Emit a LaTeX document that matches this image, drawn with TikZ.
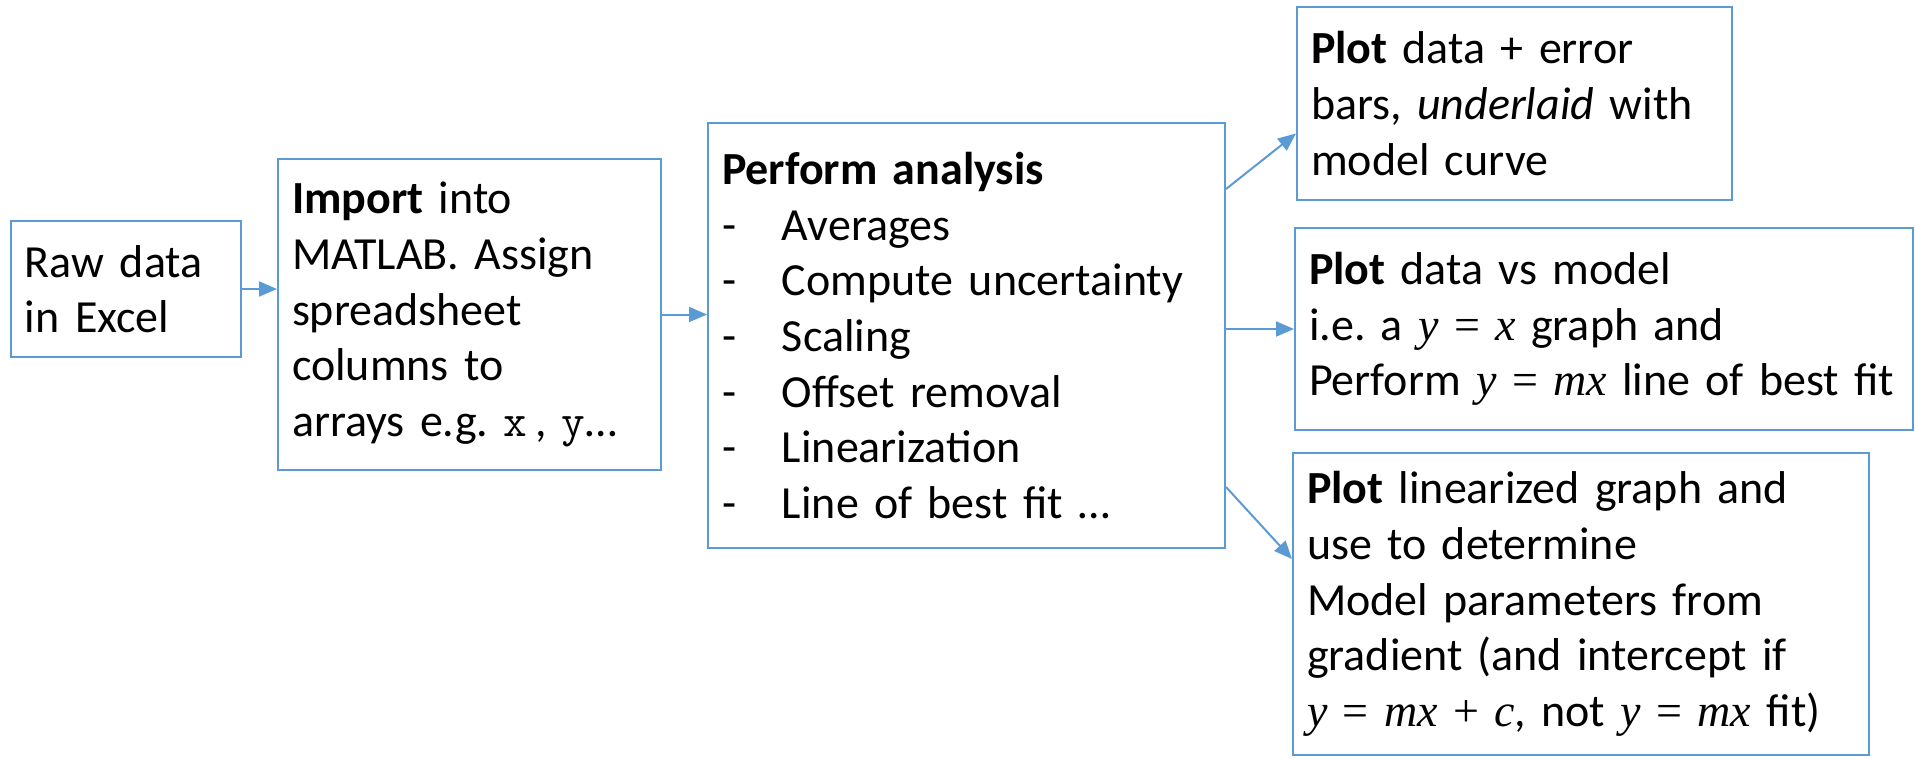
\documentclass[tikz,border=0pt]{standalone}
\usepackage{fontspec}
\setmainfont{Carlito}
\newfontfamily\eqfont{Liberation Serif}
\usetikzlibrary{arrows.meta, calc}
\definecolor{flowBlue}{RGB}{91, 155, 213}
\newcommand{\eqn}[1]{{\eqfont #1}}
\newcommand{\dashitem}{\makebox[30pt][l]{-}}
\tikzset{
    % Box Style
    stage/.style={
        rectangle,
        draw=flowBlue,
        line width=1pt,
        align=left,
        inner xsep=7pt,
        inner ysep=0pt,
        text=black,
        font=\fontsize{23}{27.8}\selectfont
    },
    % Arrow Style
    arrow/.style={-{Triangle[length=9pt, width=7.5pt]}, draw=flowBlue, line width=1pt}
}
\begin{document}
\begin{tikzpicture}[x=0.5pt, y=-0.5pt]
    \useasboundingbox (0,0) rectangle (1915,759);

    % --- Input chain ---
    \node (raw) [stage, text width=101pt, minimum height=68pt] at (126,289) {
        Raw data\\
        in Excel
    };
    \node (import) [stage, text width=177.5pt, minimum height=155.5pt] at (469.5,314.5) {
        \textbf{Import} into\\
        MATLAB. Assign\\
        spreadsheet\\
        columns to\\
        arrays e.g.\ \texttt{x}\,, \texttt{y}…
    };
    \node (analysis) [stage, text width=244.5pt, minimum height=212.5pt] at (966.5,335.5) {
        \textbf{Perform analysis}\\
        \dashitem Averages\\
        \dashitem Compute uncertainty\\
        \dashitem Scaling\\
        \dashitem Offset removal\\
        \dashitem Linearization\\
        \dashitem Line of best fit …
    };

    % --- Output plots ---
    \node (plotModel) [stage, text width=203.5pt, minimum height=96.5pt] at (1514.5,103.5) {
        \textbf{Plot} data + error\\
        bars, \textit{underlaid} with\\
        model curve
    };
    \node (plotVs) [stage, text width=295pt, minimum height=101pt] at (1604,329) {
        \textbf{Plot} data vs model\\
        i.e.\ a \eqn{\textit{y} = \textit{x}} graph and\\
        Perform \eqn{\textit{y} = \textit{mx}} line of best fit
    };
    \node (plotLin) [stage, text width=274pt, minimum height=151pt] at (1581,604) {
        \textbf{Plot} linearized graph and\\
        use to determine\\
        Model parameters from\\
        gradient (and intercept if\\
        \eqn{\textit{y} = \textit{mx} + \textit{c}}, not \eqn{\textit{y} = \textit{mx}} fit)
    };

    % --- Arrows ---
    \draw [arrow] (raw.east) -- (raw.east -| import.west);
    \draw [arrow] (import.east) -- (import.east -| analysis.west);
    \draw [arrow] ($(analysis.north east)+(0,67)$) -- ($(plotModel.west)+(0,30)$);
    \draw [arrow] (analysis.east |- plotVs.west) -- (plotVs.west);
    \draw [arrow] ($(analysis.south east)+(0,-62)$) -- ($(plotLin.west)+(0,-45)$);

\end{tikzpicture}
\end{document}
